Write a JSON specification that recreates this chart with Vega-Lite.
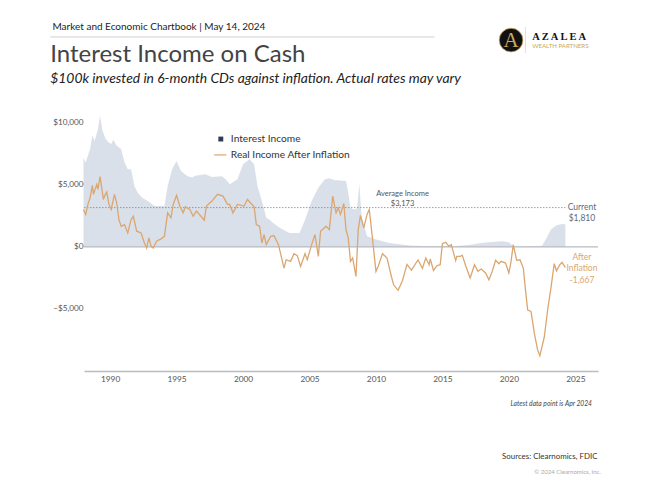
{
  "$schema": "https://vega.github.io/schema/vega-lite/v6.json",
  "description": "Interest Income on Cash",
  "width": 514,
  "height": 258,
  "autosize": {"type": "none"},
  "padding": {"left": 84, "top": 113, "right": 52, "bottom": 117},
  "background": "white",
  "config": {"view": {"stroke": null}, "font": "Lato", "text": {"font": "Lato"}},
  "datasets": {
    "income": [
      {"date":"1988-01","income":7200},{"date":"1988-03","income":6800},{"date":"1988-07","income":7900},{"date":"1988-09","income":9000},{"date":"1988-11","income":8550},{"date":"1989-02","income":9500},{"date":"1989-04","income":10600},{"date":"1989-06","income":9400},{"date":"1989-09","income":8700},{"date":"1989-12","income":8400},
      {"date":"1990-02","income":8300},{"date":"1990-04","income":8650},{"date":"1990-07","income":8150},{"date":"1990-11","income":7900},{"date":"1991-02","income":6800},{"date":"1991-05","income":6260},{"date":"1991-08","income":6260},{"date":"1991-11","income":4900},{"date":"1992-02","income":4370},{"date":"1992-06","income":3970},{"date":"1992-11","income":3700},{"date":"1993-05","income":3300},{"date":"1994-02","income":3300},{"date":"1994-05","income":4900},{"date":"1994-09","income":6260},{"date":"1995-01","income":6940},{"date":"1995-05","income":6130},{"date":"1995-11","income":5700},{"date":"1996-03","income":5600},{"date":"1996-06","income":5750},{"date":"1997-03","income":5860},{"date":"1997-09","income":5650},{"date":"1998-06","income":5700},{"date":"1998-10","income":5400},{"date":"1999-01","income":5050},{"date":"1999-08","income":5450},
      {"date":"2000-01","income":6670},{"date":"2000-07","income":7070},{"date":"2000-11","income":6670},{"date":"2001-02","income":4900},{"date":"2001-07","income":3430},{"date":"2001-10","income":2350},{"date":"2002-01","income":2200},{"date":"2002-04","income":1950},{"date":"2002-10","income":1540},{"date":"2003-07","income":1130},{"date":"2004-04","income":1130},{"date":"2004-09","income":2200},{"date":"2005-03","income":3700},{"date":"2005-09","income":4780},{"date":"2006-03","income":5450},{"date":"2006-07","income":5530},{"date":"2006-11","income":5400},{"date":"2007-10","income":5320},{"date":"2007-12","income":4370},{"date":"2008-02","income":3160},{"date":"2008-05","income":3030},{"date":"2008-08","income":3100},{"date":"2008-10","income":5050},{"date":"2008-12","income":2480},{"date":"2009-05","income":860},
      {"date":"2010-01","income":600},{"date":"2011-01","income":320},{"date":"2012-07","income":110},{"date":"2014-01","income":60},{"date":"2015-01","income":50},{"date":"2016-01","income":80},{"date":"2017-01","income":150},{"date":"2017-09","income":280},{"date":"2018-06","income":380},{"date":"2019-07","income":460},{"date":"2020-01","income":380},{"date":"2020-05","income":60},{"date":"2021-01","income":30},{"date":"2022-07","income":100},{"date":"2022-09","income":400},{"date":"2022-11","income":730},{"date":"2023-03","income":1400},{"date":"2023-08","income":1750},{"date":"2024-01","income":1860},{"date":"2024-04","income":1810}
    ],
    "real": [
      {"date":"1988-01","real":3020},{"date":"1988-03","real":2620},{"date":"1988-05","real":3430},{"date":"1988-07","real":3970},{"date":"1988-09","real":4970},{"date":"1988-10","real":4240},{"date":"1989-01","real":5050},{"date":"1989-02","real":4640},{"date":"1989-04","real":5670},{"date":"1989-07","real":3830},{"date":"1989-08","real":4100},{"date":"1989-10","real":4430},{"date":"1989-12","real":3430},
      {"date":"1990-02","real":3020},{"date":"1990-05","real":4240},{"date":"1990-07","real":3560},{"date":"1990-09","real":2200},{"date":"1990-11","real":1670},{"date":"1991-02","real":1800},{"date":"1991-05","real":1130},{"date":"1991-08","real":2200},{"date":"1991-10","real":2480},{"date":"1992-01","real":1270},{"date":"1992-05","real":1130},{"date":"1992-08","real":320},{"date":"1992-10","real":-80},{"date":"1992-12","real":730},{"date":"1993-02","real":50},{"date":"1993-04","real":-80},{"date":"1993-07","real":460},{"date":"1993-11","real":650},{"date":"1994-02","real":860},{"date":"1994-05","real":2750},{"date":"1994-08","real":2350},{"date":"1994-10","real":3430},{"date":"1995-01","real":4160},{"date":"1995-04","real":3300},{"date":"1995-07","real":2750},{"date":"1995-09","real":3240},{"date":"1996-01","real":3020},{"date":"1996-04","real":2480},{"date":"1996-07","real":2890},{"date":"1996-11","real":2480},{"date":"1997-02","real":2160},{"date":"1997-04","real":3300},{"date":"1997-09","real":3700},{"date":"1998-02","real":4240},{"date":"1998-07","real":4100},{"date":"1998-11","real":3430},
      {"date":"1999-01","real":3430},{"date":"1999-04","real":2750},{"date":"1999-08","real":3430},{"date":"2000-02","real":3300},{"date":"2000-05","real":3830},{"date":"2000-11","real":3240},{"date":"2001-01","real":1800},{"date":"2001-04","real":1670},{"date":"2001-06","real":320},{"date":"2001-08","real":1000},{"date":"2001-10","real":190},{"date":"2002-02","real":860},{"date":"2002-05","real":920},{"date":"2002-09","real":190},{"date":"2003-02","real":-1700},{"date":"2003-04","real":-1030},{"date":"2003-08","real":-1160},{"date":"2003-11","real":-540},{"date":"2004-02","real":-700},{"date":"2004-05","real":-1570},{"date":"2004-09","real":-540},{"date":"2004-11","real":-1030},{"date":"2005-03","real":190},{"date":"2005-06","real":1000},{"date":"2005-09","real":-760},{"date":"2005-11","real":1270},{"date":"2006-04","real":1670},{"date":"2006-07","real":1400},{"date":"2006-10","real":4100},{"date":"2007-01","real":2750},{"date":"2007-03","real":3160},{"date":"2007-05","real":2620},{"date":"2007-08","real":3500},{"date":"2007-10","real":1400},{"date":"2007-12","real":730},{"date":"2008-02","real":-1160},{"date":"2008-04","real":-890},{"date":"2008-07","real":-2380},{"date":"2008-09","real":1400},{"date":"2008-11","real":2540},{"date":"2009-02","real":1540},{"date":"2009-05","real":2620},{"date":"2009-07","real":3020},{"date":"2009-09","real":1400},
      {"date":"2010-01","real":-1970},{"date":"2010-03","real":-1570},{"date":"2010-07","real":-540},{"date":"2010-11","real":-890},{"date":"2011-03","real":-2380},{"date":"2011-05","real":-3050},{"date":"2011-09","real":-3500},{"date":"2012-01","real":-2700},{"date":"2012-05","real":-1400},{"date":"2012-09","real":-1860},{"date":"2013-03","real":-1050},{"date":"2013-07","real":-1730},{"date":"2013-10","real":-890},{"date":"2014-01","real":-1430},{"date":"2014-02","real":-970},{"date":"2014-05","real":-1890},{"date":"2014-08","real":-1510},{"date":"2014-11","real":-1430},{"date":"2015-01","real":270},{"date":"2015-04","real":380},{"date":"2015-07","real":50},{"date":"2015-09","real":190},{"date":"2016-01","real":-1100},{"date":"2016-02","real":-760},{"date":"2016-05","real":-760},{"date":"2016-07","real":-680},{"date":"2016-10","real":-1510},{"date":"2017-02","real":-2500},{"date":"2017-06","real":-1430},{"date":"2017-09","real":-1970},{"date":"2017-12","real":-1780},{"date":"2018-04","real":-2100},{"date":"2018-07","real":-2650},{"date":"2018-10","real":-1970},{"date":"2019-01","real":-1080},{"date":"2019-04","real":-1350},{"date":"2019-06","real":-1160},{"date":"2019-10","real":-1300},{"date":"2020-01","real":-2100},{"date":"2020-03","real":-1160},{"date":"2020-05","real":190},{"date":"2020-08","real":-1080},{"date":"2020-11","real":-1030},{"date":"2021-02","real":-1700},{"date":"2021-04","real":-3460},{"date":"2021-06","real":-5080},{"date":"2021-09","real":-5200},{"date":"2021-12","real":-6970},{"date":"2022-03","real":-8300},{"date":"2022-05","real":-8780},{"date":"2022-09","real":-7240},{"date":"2022-12","real":-5080},{"date":"2023-03","real":-3320},{"date":"2023-06","real":-1350},{"date":"2023-08","real":-1920},{"date":"2023-11","real":-1430},{"date":"2024-01","real":-1240},{"date":"2024-04","real":-1667}
    ]
  },
  "encoding": {
    "x": {"field": "date", "type": "temporal", "title": null,
      "scale": {"domain": ["1988-01-15", "2026-09-15"]},
      "axis": {"values": [{"year":1990},{"year":1995},{"year":2000},{"year":2005},{"year":2010},{"year":2015},{"year":2020},{"year":2025}], "format": "%Y", "grid": false, "ticks": false, "labelColor": "#555555", "labelFontSize": 8.3, "labelPadding": 3, "domainColor": "#b9bcc0", "domainWidth": 1.5}},
    "y": {"field": "value", "type": "quantitative", "title": null,
      "scale": {"domain": [-10000, 10800]},
      "axis": {"values": [-5000, 0, 5000, 10000], "format": "$,.0f", "grid": false, "ticks": false, "domain": false, "labelColor": "#555555", "labelFontSize": 8.2, "labelPadding": 1}}
  },
  "layer": [
    {"data": {"name": "income"}, "mark": {"type": "area", "color": "#2f5586", "opacity": 0.18, "clip": false}, "encoding": {"y": {"field": "income", "type": "quantitative", "stack": null}}},
    {"data": {"values": [{"value": 3173, "date": "1988-01-15", "end": "2024-04-01"}]}, "mark": {"type": "rule", "color": "#7b8796", "strokeWidth": 0.8, "strokeDash": [1.5, 1.5]}, "encoding": {"x2": {"field": "end"}}},
    {"data": {"values": [{"value": 0, "date": "1988-01-15", "end": "2026-09-15"}]}, "mark": {"type": "rule", "color": "#b9bcc0", "strokeWidth": 1.3}, "encoding": {"x2": {"field": "end"}}},
    {"data": {"name": "real"}, "mark": {"type": "line", "color": "#dba670", "strokeWidth": 1.3}, "encoding": {"y": {"field": "real", "type": "quantitative"}}},
    {"data": {"values": [{"date": "1998-05", "value": 8700}]}, "mark": {"type": "point", "shape": "square", "filled": true, "size": 24, "color": "#2b3d55", "opacity": 1}},
    {"data": {"values": [{"date": "1997-11", "end": "1998-10", "value": 7420}]}, "mark": {"type": "rule", "color": "#dba670", "strokeWidth": 1.2}, "encoding": {"x2": {"field": "end"}}},
    {"data": {"values": [{"date": "1999-02", "value": 8700, "label": "Interest Income"}, {"date": "1999-02", "value": 7420, "label": "Real Income After Inflation"}]}, "mark": {"type": "text", "align": "left", "baseline": "middle", "fontSize": 10.2, "color": "#333333"}, "encoding": {"text": {"field": "label"}}},
    {"data": {"values": [{"date": "2012-01", "value": 4270, "label": "Average Income"}, {"date": "2012-01", "value": 3470, "label": "$3,173"}]}, "mark": {"type": "text", "align": "center", "baseline": "middle", "fontSize": 7.5, "color": "#555555"}, "encoding": {"text": {"field": "label"}}},
    {"data": {"values": [{"date": "2025-07", "value": 3220, "label": "Current"}, {"date": "2025-07", "value": 2340, "label": "$1,810"}]}, "mark": {"type": "text", "align": "center", "baseline": "middle", "fontSize": 8.5, "color": "#5d6b7c"}, "encoding": {"text": {"field": "label"}}},
    {"data": {"values": [{"date": "2025-07", "value": -800, "label": "After"}, {"date": "2025-07", "value": -1690, "label": "Inflation"}, {"date": "2025-07", "value": -2660, "label": "-1,667"}]}, "mark": {"type": "text", "align": "center", "baseline": "middle", "fontSize": 8.5, "color": "#dba670"}, "encoding": {"text": {"field": "label"}}},
    {"data": {"values": [{"date": "2026-04", "value": -12650, "label": "Latest data point is Apr 2024"}]}, "mark": {"type": "text", "align": "right", "baseline": "middle", "fontSize": 6.7, "fontStyle": "italic", "color": "#444444"}, "encoding": {"text": {"field": "label"}}},
    {"data": {"values": [{"date": "2026-09", "value": -16930, "label": "Sources: Clearnomics, FDIC"}]}, "mark": {"type": "text", "align": "right", "baseline": "middle", "fontSize": 7.9, "color": "#333333"}, "encoding": {"text": {"field": "label"}}},
    {"data": {"values": [{"date": "2026-12", "value": -18140, "label": "© 2024 Clearnomics, Inc."}]}, "mark": {"type": "text", "align": "right", "baseline": "middle", "fontSize": 6, "color": "#aaaaaa"}, "encoding": {"text": {"field": "label"}}},
    {"data": {"values": [{"date": "1985-09", "value": 17730, "label": "Market and Economic Chartbook | May 14, 2024"}]}, "mark": {"type": "text", "align": "left", "baseline": "middle", "fontSize": 10, "color": "#222222"}, "encoding": {"text": {"field": "label"}}},
    {"data": {"values": [{"date": "1985-07", "end": "2014-06", "value": 16930}]}, "mark": {"type": "rule", "color": "#c4c4c4", "strokeWidth": 0.8}, "encoding": {"x2": {"field": "end"}}},
    {"data": {"values": [{"date": "1985-07", "value": 15480, "label": "Interest Income on Cash"}]}, "mark": {"type": "text", "align": "left", "baseline": "middle", "fontSize": 24, "color": "#444444"}, "encoding": {"text": {"field": "label"}}},
    {"data": {"values": [{"date": "1985-07", "value": 13540, "label": "$100k invested in 6-month CDs against inflation. Actual rates may vary"}]}, "mark": {"type": "text", "align": "left", "baseline": "middle", "fontSize": 13.9, "fontStyle": "italic", "color": "#222222"}, "encoding": {"text": {"field": "label"}}},
    {"data": {"values": [{"date": "2020-03", "value": 16680}]}, "mark": {"type": "point", "shape": "circle", "filled": true, "size": 560, "color": "#111111", "opacity": 1, "stroke": "#c9a860", "strokeWidth": 0.8}},
    {"data": {"values": [{"date": "2020-03", "value": 16600, "label": "A"}]}, "mark": {"type": "text", "align": "center", "baseline": "middle", "fontSize": 21, "font": "Liberation Serif", "color": "#c9a860"}, "encoding": {"text": {"field": "label"}}},
    {"data": {"values": [{"date": "2021-04", "value": 17730, "bottom": 15640}]}, "mark": {"type": "rule", "color": "#d8c9a0", "strokeWidth": 0.6}, "encoding": {"y2": {"field": "bottom"}}},
    {"data": {"values": [{"date": "2021-10", "value": 16930, "label": "A Z A L E A"}]}, "mark": {"type": "text", "align": "left", "baseline": "middle", "fontSize": 10.5, "font": "Liberation Serif", "fontWeight": "bold", "color": "#111111"}, "encoding": {"text": {"field": "label"}}},
    {"data": {"values": [{"date": "2021-10", "value": 16200, "label": "WEALTH PARTNERS"}]}, "mark": {"type": "text", "align": "left", "baseline": "middle", "fontSize": 6.1, "color": "#c9a860"}, "encoding": {"text": {"field": "label"}}}
  ]
}
